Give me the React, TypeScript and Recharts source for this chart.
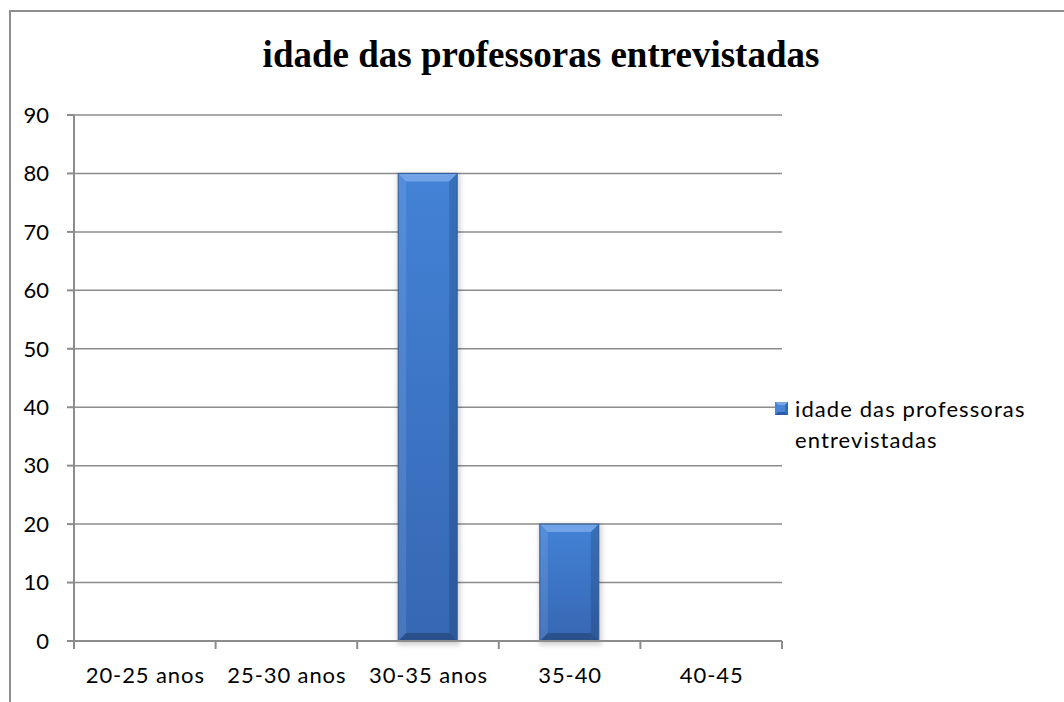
import React from 'react';
import { BarChart, Bar, XAxis, YAxis, CartesianGrid, Legend } from 'recharts';

const title = 'idade das professoras entrevistadas';
const seriesName = 'idade das professoras entrevistadas';
const categories = ['20-25 anos', '25-30 anos', '30-35 anos', '35-40', '40-45'];
const values = [0, 0, 80, 20, 0];
const yTicks = [0, 10, 20, 30, 40, 50, 60, 70, 80, 90];

// each category occupies one unit on a numeric axis; bars sit at the unit centre
const data = categories.map((c, i) => ({ category: c, pos: i + 0.5, value: values[i] }));
const edgeTicks: number[] = categories
  .flatMap((_, i) => [i, i + 0.5])
  .concat([categories.length]);

const AXIS = '#8c8c8c';
const FONT = 'Lato, "Open Sans", sans-serif';

const EdgeTick = (props: any) => {
  const { x, y, payload } = props;
  const v = payload.value as number;
  if (Number.isInteger(v)) {
    return <line x1={x} x2={x} y1={y} y2={y + 8} stroke={AXIS} strokeWidth={2} />;
  }
  const label = categories[Math.floor(v)];
  return (
    <text x={x + 0.5} y={y + 42} textAnchor="middle" fontFamily={FONT} fontSize={22} letterSpacing={0.9} fill="#000">
      {label}
    </text>
  );
};

const BevelBar = (props: any) => {
  const { x, y, width: w, height: h } = props;
  if (!h || h <= 0) return null;
  const b = Math.min(8, w / 4, h / 4);
  return (
    <g>
      <rect x={x - 1} y={y} width={w + 4} height={h + 4} fill="rgba(0,0,0,0.18)" filter="url(#barShadow)" />
      <rect x={x} y={y} width={w} height={h} fill="url(#barFill)" />
      <polygon points={`${x},${y} ${x + w},${y} ${x + w - b},${y + b} ${x + b},${y + b}`} fill="#72a3e6" />
      <polygon points={`${x},${y} ${x + b},${y + b} ${x + b},${y + h - b} ${x},${y + h}`} fill="rgba(255,255,255,0.10)" />
      <polygon points={`${x + w},${y} ${x + w},${y + h} ${x + w - b},${y + h - b} ${x + w - b},${y + b}`} fill="rgba(0,0,0,0.14)" />
      <polygon points={`${x},${y + h} ${x + w},${y + h} ${x + w - b},${y + h - b} ${x + b},${y + h - b}`} fill="rgba(0,0,0,0.22)" />
      <rect x={x} y={y} width={w} height={h} fill="none" stroke="#2d5a9a" strokeWidth={1} />
    </g>
  );
};

const LegendIcon = () => (
  <svg width={13} height={13} style={{ display: 'block' }}>
    <rect x={0} y={0} width={13} height={13} fill="#3f7bd0" />
    <polygon points="0,0 13,0 6.5,6.5" fill="#7aa8e6" />
    <polygon points="0,0 6.5,6.5 0,13" fill="#4a84d4" />
    <polygon points="13,0 13,13 6.5,6.5" fill="#346cbc" />
    <polygon points="0,13 13,13 6.5,6.5" fill="#2b5ea8" />
    <rect x={3} y={3} width={7} height={7} fill="#4a86d6" />
  </svg>
);

const LegendContent = () => (
  <div style={{ display: 'flex', alignItems: 'flex-start', fontFamily: FONT, fontSize: 22, color: '#000', letterSpacing: '1.1px' }}>
    <div style={{ marginTop: 9, marginRight: 7 }}>
      <LegendIcon />
    </div>
    <div style={{ lineHeight: '31px' }}>
      idade das professoras
      <br />
      entrevistadas
    </div>
  </div>
);

export default function App() {
  return (
    <div
      style={{
        position: 'absolute',
        left: 0,
        top: 0,
        width: 1064,
        height: 702,
        overflow: 'hidden',
        background: '#fff',
      }}
    >
      <div
        style={{
          position: 'absolute',
          left: 9,
          top: 10,
          width: 1080,
          height: 720,
          borderTop: '2px solid #8e8e8e',
          borderLeft: '2px solid #8e8e8e',
        }}
      />
      <div
        style={{
          position: 'absolute',
          left: 241,
          top: 36,
          width: 600,
          textAlign: 'center',
          fontFamily: '"Liberation Serif", "Times New Roman", serif',
          fontWeight: 'bold',
          fontSize: 37,
          lineHeight: '37px',
          color: '#000',
          whiteSpace: 'nowrap',
        }}
      >
        {title}
      </div>
      <div style={{ position: 'absolute', left: 0, top: 0 }}>
        <BarChart
          width={1064}
          height={702}
          data={data}
          margin={{ top: 115, right: 282, bottom: 0, left: 0 }}
        >
          <defs>
            <linearGradient id="barFill" x1="0" y1="0" x2="0" y2="1">
              <stop offset="0%" stopColor="#4382d6" />
              <stop offset="100%" stopColor="#3667b3" />
            </linearGradient>
            <filter id="barShadow" x="-20%" y="-20%" width="140%" height="140%">
              <feGaussianBlur stdDeviation="2.5" />
            </filter>
          </defs>
          <CartesianGrid vertical={false} stroke={AXIS} strokeWidth={1.5} />
          <XAxis
            dataKey="pos"
            type="number"
            domain={[0, categories.length]}
            allowDataOverflow
            ticks={edgeTicks}
            interval={0}
            allowDecimals
            height={61}
            tickSize={0}
            tickMargin={0}
            tickLine={false}
            axisLine={{ stroke: AXIS, strokeWidth: 2 }}
            tick={<EdgeTick />}
          />
          <YAxis
            domain={[0, 90]}
            ticks={yTicks}
            interval={0}
            width={74}
            tickSize={7}
            tickMargin={18}
            axisLine={{ stroke: AXIS, strokeWidth: 2 }}
            tickLine={{ stroke: AXIS, strokeWidth: 2 }}
            tick={{ fontFamily: FONT, fontSize: 22, fill: '#000' }}
          />
          <Legend
            layout="vertical"
            align="center"
            verticalAlign="middle"
            content={<LegendContent />}
            wrapperStyle={{ position: 'absolute', left: 775, top: 393, width: 290 }}
          />
          <Bar
            dataKey="value"
            name={seriesName}
            barSize={59}
            shape={<BevelBar />}
            isAnimationActive={false}
          />
        </BarChart>
      </div>
    </div>
  );
}
